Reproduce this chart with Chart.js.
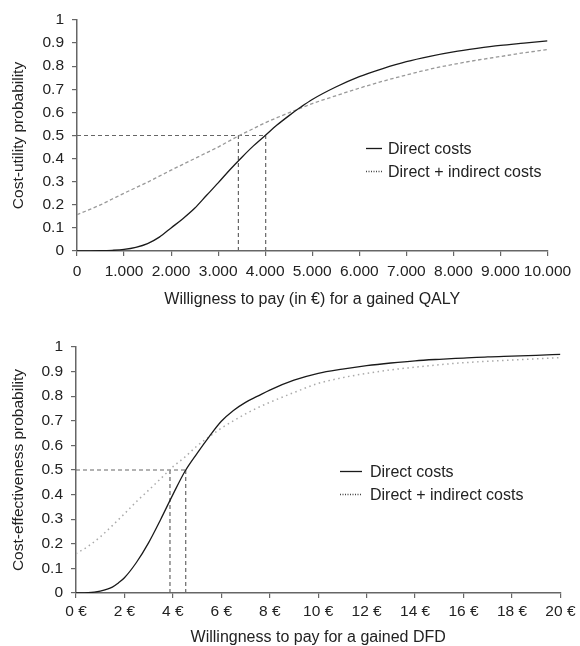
<!DOCTYPE html>
<html><head><meta charset="utf-8">
<script src="https://cdn.jsdelivr.net/npm/chart.js@4"></script>
<style>
html,body{margin:0;padding:0;background:#fff;width:580px;height:646px;overflow:hidden}
#c1{position:absolute;left:0;top:0}
#c2{position:absolute;left:0;top:323px}
</style>
</head><body>
<canvas id="c1" width="580" height="323"></canvas>
<canvas id="c2" width="580" height="323"></canvas>
<script>
// ---------- Data: top chart (QALY) ----------
const qalyWtp      = [0, 500, 750, 1000, 1250, 1500, 1750, 2000, 2250, 2500, 2750, 3000, 3250, 3500, 3750, 4000, 4250, 4500, 4750, 5000, 5500, 6000, 6500, 7000, 7500, 8000, 8500, 9000, 9500, 10000];
const qalyDirect   = [0, 0.001, 0.003, 0.007, 0.016, 0.032, 0.06, 0.1, 0.14, 0.185, 0.24, 0.295, 0.352, 0.405, 0.455, 0.5, 0.545, 0.585, 0.622, 0.656, 0.71, 0.755, 0.79, 0.82, 0.843, 0.862, 0.877, 0.89, 0.9, 0.91];
const qalyIndirect = [0.157, 0.2, 0.225, 0.25, 0.274, 0.298, 0.324, 0.35, 0.375, 0.4, 0.425, 0.45, 0.478, 0.505, 0.53, 0.555, 0.577, 0.598, 0.618, 0.638, 0.672, 0.705, 0.735, 0.762, 0.787, 0.808, 0.826, 0.842, 0.858, 0.872];
const qalyThresholds = [3430, 4010];
const qalyXTicks = ['0', '1.000', '2.000', '3.000', '4.000', '5.000', '6.000', '7.000', '8.000', '9.000', '10.000'];

// ---------- Data: bottom chart (DFD) ----------
const dfdWtp      = [0, 0.5, 1, 1.5, 1.75, 2, 2.5, 3, 3.5, 4, 4.5, 5, 5.5, 6, 6.5, 7, 7.5, 8, 9, 10, 11, 12, 13, 14, 15, 16, 17, 18, 19, 20];
const dfdDirect   = [0, 0.001, 0.008, 0.024, 0.041, 0.062, 0.125, 0.205, 0.3, 0.4, 0.495, 0.568, 0.636, 0.698, 0.742, 0.775, 0.8, 0.825, 0.865, 0.893, 0.91, 0.924, 0.935, 0.944, 0.95, 0.955, 0.96, 0.963, 0.966, 0.97];
const dfdIndirect = [0.16, 0.19, 0.228, 0.274, 0.298, 0.322, 0.372, 0.418, 0.465, 0.513, 0.553, 0.598, 0.635, 0.67, 0.7, 0.728, 0.753, 0.775, 0.815, 0.852, 0.875, 0.893, 0.907, 0.918, 0.928, 0.936, 0.942, 0.947, 0.952, 0.957];
const dfdThresholds = [3.88, 4.53];
const dfdXTicks = ['0 €', '2 €', '4 €', '6 €', '8 €', '10 €', '12 €', '14 €', '16 €', '18 €', '20 €'];

// ---------- Shared ----------
const yTicks = ['0', '0.1', '0.2', '0.3', '0.4', '0.5', '0.6', '0.7', '0.8', '0.9', '1'];
const thresholdProb = 0.5;
const seriesLabels = ['Direct costs', 'Direct + indirect costs'];

const FONT = "'Liberation Sans', Arial, sans-serif";
const TXT = '#222';
const AX = '#666';

const toXY = (xs, ys) => xs.map((x, i) => ({x, y: ys[i]}));

function refDatasets(thr) {
  const ds = [];
  const refStyle = {borderColor: '#666', borderWidth: 1.2, borderDash: [4, 3], pointRadius: 0, fill: false, tension: 0};
  ds.push(Object.assign({data: [{x: 0, y: thresholdProb}, {x: Math.max(...thr), y: thresholdProb}]}, refStyle));
  thr.forEach(t => ds.push(Object.assign({data: [{x: t, y: 0}, {x: t, y: thresholdProb}]}, refStyle)));
  return ds;
}

const inlineLegend = {
  id: 'inlineLegend',
  afterDatasetsDraw(chart, args, o) {
    const ctx = chart.ctx;
    ctx.save();
    ctx.font = o.font;
    ctx.fillStyle = TXT;
    ctx.textBaseline = 'middle';
    o.items.forEach((it, i) => {
      const y = o.y + i * o.gap;
      ctx.beginPath();
      ctx.strokeStyle = it.color;
      ctx.lineWidth = it.width;
      ctx.setLineDash(it.dash);
      ctx.moveTo(o.x1, y);
      ctx.lineTo(o.x2, y);
      ctx.stroke();
      ctx.setLineDash([]);
      ctx.fillText(it.text, o.tx, y + 1);
    });
    ctx.restore();
  }
};

function makeChart(id, cfg) {
  const datasets = [
    {label: seriesLabels[0], data: toXY(cfg.xs, cfg.direct), borderColor: '#1a1a1a', borderWidth: 1.3, pointRadius: 0, fill: false, cubicInterpolationMode: 'monotone'},
    {label: seriesLabels[1], data: toXY(cfg.xs, cfg.indirect), borderColor: cfg.indColor, borderWidth: cfg.indWidth, borderDash: cfg.indDash, pointRadius: 0, fill: false, cubicInterpolationMode: 'monotone'},
    ...refDatasets(cfg.thr)
  ];
  return new Chart(document.getElementById(id), {
    type: 'line',
    data: {datasets},
    plugins: [inlineLegend],
    options: {
      responsive: false,
      animation: false,
      events: [],
      layout: {padding: {top: cfg.padTop, right: cfg.padRight, bottom: 0, left: 0}},
      plugins: {
        legend: {display: false},
        tooltip: {enabled: false},
        inlineLegend: {
          font: '16px ' + FONT,
          x1: cfg.lg.x1, x2: cfg.lg.x2, tx: cfg.lg.tx, y: cfg.lg.y, gap: 23,
          items: [
            {text: seriesLabels[0], color: '#1a1a1a', width: 1.3, dash: []},
            {text: seriesLabels[1], color: '#444', width: 1.3, dash: [1, 1.5]}
          ]
        }
      },
      scales: {
        x: {
          type: 'linear', min: 0, max: cfg.xmax,
          afterFit: s => { s.height = cfg.xAxisH; },
          afterBuildTicks: s => { s.ticks = cfg.xTicks.map((_, i) => ({value: i * cfg.xstep})); },
          ticks: {font: {family: FONT, size: 15.5}, color: TXT, padding: cfg.xTickPad, maxRotation: 0, autoSkip: false,
                  callback: (v, i) => cfg.xTicks[i]},
          grid: {display: true, drawOnChartArea: false, drawTicks: true, tickLength: 5, color: AX, lineWidth: 1.2},
          border: {display: true, color: AX, width: 1.5},
          title: {display: true, text: cfg.xTitle, color: TXT, font: {family: FONT, size: 16, lineHeight: 1}, padding: {top: 0, bottom: cfg.xTitlePad}}
        },
        y: {
          type: 'linear', min: 0, max: 1,
          afterFit: s => { s.width = cfg.yAxisW; },
          afterBuildTicks: s => { s.ticks = yTicks.map((_, i) => ({value: i / 10})); },
          ticks: {font: {family: FONT, size: 15.5}, color: TXT, padding: 8, autoSkip: false,
                  callback: (v, i) => yTicks[i]},
          grid: {display: true, drawOnChartArea: false, drawTicks: true, tickLength: 5, color: AX, lineWidth: 1.2},
          border: {display: true, color: AX, width: 1.5},
          title: {display: true, text: cfg.yTitle, color: TXT, font: {family: FONT, size: 15.5, lineHeight: 1}, padding: {top: 10.5, bottom: 0}}
        }
      }
    }
  });
}

makeChart('c1', {
  xs: qalyWtp, direct: qalyDirect, indirect: qalyIndirect, thr: qalyThresholds,
  indColor: '#999', indWidth: 1.3, indDash: [3.5, 2.5],
  xmax: 10000, xstep: 1000, xTicks: qalyXTicks,
  xTitle: 'Willigness to pay (in €) for a gained QALY', yTitle: 'Cost-utility probability',
  padTop: 20, padRight: 32.5, xAxisH: 72, yAxisW: 77, xTickPad: 6.5, xTitlePad: 15,
  lg: {x1: 366, x2: 382, tx: 388, y: 148.5}
});

makeChart('c2', {
  xs: dfdWtp, direct: dfdDirect, indirect: dfdIndirect, thr: dfdThresholds,
  indColor: '#aaa', indWidth: 1.5, indDash: [1.5, 3.5],
  xmax: 20, xstep: 2, xTicks: dfdXTicks,
  xTitle: 'Willingness to pay for a gained DFD', yTitle: 'Cost-effectiveness probability',
  padTop: 24, padRight: 18, xAxisH: 53, yAxisW: 76, xTickPad: 4.5, xTitlePad: 0,
  lg: {x1: 340, x2: 362, tx: 370, y: 148.5}
});
</script>
</body></html>
